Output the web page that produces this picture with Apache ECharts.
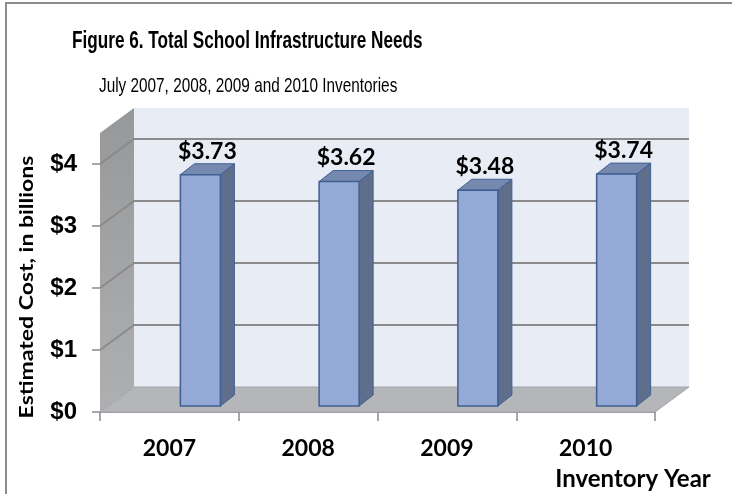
<!DOCTYPE html>
<html>
<head>
<meta charset="utf-8">
<script src="https://cdn.jsdelivr.net/npm/echarts@6/dist/echarts.min.js"></script>
<style>
  html, body { margin: 0; padding: 0; background: #ffffff; }
  #chart { width: 732px; height: 494px; }
</style>
</head>
<body>
<div id="chart"></div>
<script>
// Inventory years and total estimated cost (billions of dollars)
const categories = ['2007', '2008', '2009', '2010'];
const costs = [3.73, 3.62, 3.48, 3.74];
const yTicks = [0, 1, 2, 3, 4];
const yMax = 4.5;

// Oblique offset of the back wall relative to the front plane
const DEPTH_X = 34;
const DEPTH_Y = -25;
// Bar geometry inside the box
const BAR_SHIFT_X = 31;
const BAR_SHIFT_Y = -6;
const BAR_HALF = 20;
const BAR_DX = 14;
const BAR_DY = -11;

const chart = echarts.init(document.getElementById('chart'), null, { renderer: 'canvas' });

function renderFrame(params, api) {
  const cs = params.coordSys;
  const L = cs.x, R = cs.x + cs.width, T = cs.y;
  const y0 = api.coord([0, 0])[1];
  const children = [];
  // left side wall
  children.push({
    type: 'polygon',
    shape: { points: [[L, y0], [L, T], [L + DEPTH_X, T + DEPTH_Y], [L + DEPTH_X, y0 + DEPTH_Y]] },
    style: {
      fill: new echarts.graphic.LinearGradient(0, 0, 0, 1, [
        { offset: 0, color: '#97989a' },
        { offset: 1, color: '#aeafb1' }
      ])
    }
  });
  // back wall
  children.push({
    type: 'rect',
    shape: { x: L + DEPTH_X, y: T + DEPTH_Y, width: R - L, height: y0 - T },
    style: { fill: '#e8ecf5' }
  });
  // floor
  children.push({
    type: 'polygon',
    shape: { points: [[L, y0], [L + DEPTH_X, y0 + DEPTH_Y], [R + DEPTH_X, y0 + DEPTH_Y], [R, y0]] },
    style: { fill: '#b4b6b9', stroke: '#a2a4a7', lineWidth: 1 }
  });
  // gridlines across side and back walls, plus y tick marks
  yTicks.forEach(function (v) {
    const y = api.coord([0, v])[1];
    if (v > 0) {
      children.push({
        type: 'polyline',
        shape: { points: [[L, y], [L + DEPTH_X, y + DEPTH_Y], [R + DEPTH_X, y + DEPTH_Y]] },
        style: { stroke: '#8a8a8a', lineWidth: 2, fill: null }
      });
    }
    children.push({
      type: 'line',
      shape: { x1: L - 8, y1: y, x2: L, y2: y },
      style: { stroke: '#8a8a8a', lineWidth: 1.5 }
    });
  });
  return { type: 'group', children: children };
}

function renderBar(params, api) {
  const i = api.value(0);
  const v = api.value(1);
  const base = api.coord([i, 0]);
  const top = api.coord([i, v]);
  const cx = base[0] + BAR_SHIFT_X;
  const x1 = cx - BAR_HALF, x2 = cx + BAR_HALF;
  const yb = base[1] + BAR_SHIFT_Y, yt = top[1] + BAR_SHIFT_Y;
  const edge = '#3f5f93';
  return {
    type: 'group',
    children: [
      {
        type: 'polygon',
        shape: { points: [[x2, yb], [x2 + BAR_DX, yb + BAR_DY], [x2 + BAR_DX, yt + BAR_DY], [x2, yt]] },
        style: { fill: '#5e6e8b', stroke: edge, lineWidth: 1 }
      },
      {
        type: 'polygon',
        shape: { points: [[x1, yt], [x1 + BAR_DX, yt + BAR_DY], [x2 + BAR_DX, yt + BAR_DY], [x2, yt]] },
        style: { fill: '#7588ae', stroke: edge, lineWidth: 1 }
      },
      {
        type: 'rect',
        shape: { x: x1, y: yt, width: x2 - x1, height: yb - yt },
        style: { fill: '#94a9d5', stroke: edge, lineWidth: 1.5 }
      },
      {
        type: 'text',
        style: {
          x: cx + BAR_DX / 2,
          y: yt + BAR_DY - 1,
          text: '$' + v.toFixed(2),
          align: 'center',
          verticalAlign: 'bottom',
          fill: '#000000',
          font: 'bold 23px Lato'
        }
      }
    ]
  };
}

chart.setOption({
  animation: false,
  backgroundColor: '#ffffff',
  grid: { left: 100, right: 77, top: 133, bottom: 82 },
  xAxis: {
    type: 'category',
    data: categories,
    boundaryGap: true,
    axisLine: { show: true, lineStyle: { color: '#9a9c9f', width: 1 } },
    axisTick: { show: true, length: 9, lineStyle: { color: '#8a8a8a', width: 1.5 } },
    axisLabel: { margin: 25, color: '#000000', fontFamily: 'Lato', fontWeight: 'bold', fontSize: 23 },
    splitLine: { show: false }
  },
  yAxis: {
    type: 'value',
    min: 0,
    max: yMax,
    interval: 1,
    axisLine: { show: false },
    axisTick: { show: false },
    splitLine: { show: false },
    axisLabel: {
      margin: 23,
      showMaxLabel: false,
      color: '#000000',
      fontFamily: 'Liberation Sans',
      fontWeight: 'bold',
      fontSize: 24,
      formatter: function (v) { return Number.isInteger(v) ? '$' + v : ''; }
    }
  },
  graphic: [
    { type: 'line', shape: { x1: 5, y1: 3, x2: 732, y2: 3 }, style: { stroke: '#8c8c8c', lineWidth: 2 } },
    { type: 'line', shape: { x1: 6, y1: 3, x2: 6, y2: 494 }, style: { stroke: '#8c8c8c', lineWidth: 2 } },
    {
      type: 'text', left: 72, top: 29, scaleX: 0.715,
      style: { text: 'Figure 6. Total School Infrastructure Needs', font: 'bold 24px "Liberation Sans"', fill: '#000000' }
    },
    {
      type: 'text', left: 99, top: 76, scaleX: 0.73,
      style: { text: 'July 2007, 2008, 2009 and 2010 Inventories', font: '21px "Liberation Sans"', fill: '#000000' }
    },
    {
      type: 'text', x: 27, y: 287, rotation: Math.PI / 2, scaleY: 0.82,
      style: { text: 'Estimated Cost, in billions', font: 'bold 23px Lato', fill: '#000000', align: 'center', verticalAlign: 'middle' }
    },
    {
      type: 'text', x: 633, y: 479,
      style: { text: 'Inventory Year', font: 'bold 24px Lato', fill: '#000000', align: 'center', verticalAlign: 'middle' }
    }
  ],
  series: [
    {
      type: 'custom',
      name: 'frame',
      silent: true,
      data: [[0, 0]],
      renderItem: renderFrame,
      z: 1
    },
    {
      type: 'custom',
      name: 'Estimated Cost',
      data: costs.map(function (v, i) { return [i, v]; }),
      encode: { x: 0, y: 1 },
      renderItem: renderBar,
      z: 2
    }
  ]
});
</script>
</body>
</html>
